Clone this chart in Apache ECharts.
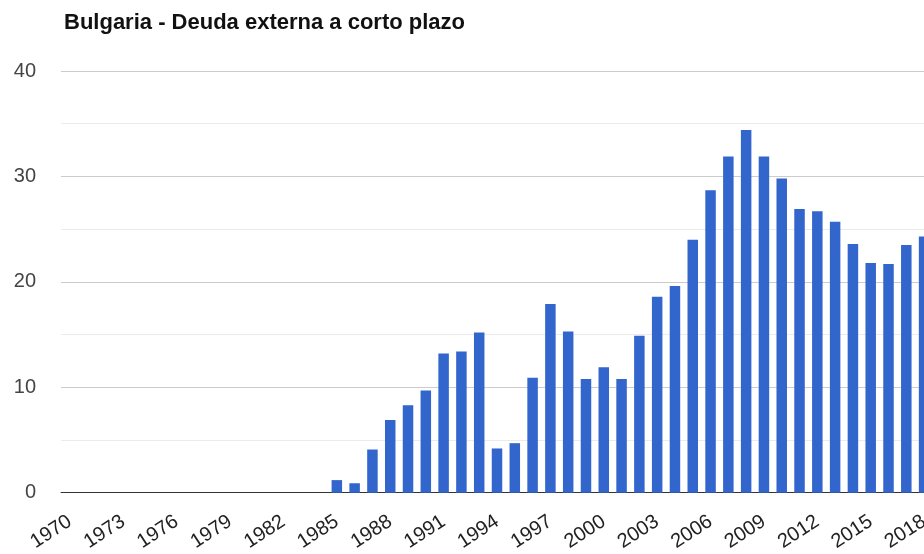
<!DOCTYPE html>
<html>
<head>
<meta charset="utf-8">
<script src="https://cdn.jsdelivr.net/npm/echarts@6/dist/echarts.min.js"></script>
<style>
html,body{margin:0;padding:0;overflow:hidden;background:#fff;width:924px;height:554px;}
#c{width:940px;height:554px;}
</style>
</head>
<body>
<div id="c"></div>
<script>
var titleText = 'Bulgaria - Deuda externa a corto plazo';
var years = [];
for (var y = 1970; y <= 2018; y++) years.push(String(y));
// 1970–1984 have no data
var values = [
  null, null, null, null, null, null, null, null, null, null,
  null, null, null, null, null,
  1.2, 0.9, 4.1, 6.9, 8.3, 9.7, 13.2, 13.4, 15.2, 4.2,
  4.7, 10.9, 17.9, 15.3, 10.8, 11.9, 10.8, 14.9, 18.6, 19.6,
  24.0, 28.7, 31.9, 34.4, 31.9, 29.8, 26.9, 26.7, 25.7, 23.6,
  21.8, 21.7, 23.5, 24.3
];
var yTicks = [0, 10, 20, 30, 40];

var chart = echarts.init(document.getElementById('c'), null, {renderer: 'canvas'});
chart.setOption({
  animation: false,
  title: {
    text: titleText,
    left: 64, top: 12, padding: 0,
    textStyle: {fontFamily: 'Liberation Sans, Arial, sans-serif', fontSize: 22, fontWeight: 'bold', color: '#111'}
  },
  grid: {left: 61, right: 7, top: 71, bottom: 61, containLabel: false},
  xAxis: {
    type: 'category',
    data: years,
    boundaryGap: true,
    axisLine: {show: true, lineStyle: {color: '#333', width: 1}},
    axisTick: {show: false},
    axisLabel: {
      interval: 2,
      rotate: 33,
      margin: 27,
      color: '#222',
      fontSize: 20,
      fontFamily: 'Liberation Sans, Arial, sans-serif'
    },
    splitLine: {show: false}
  },
  yAxis: {
    type: 'value',
    min: yTicks[0],
    max: yTicks[yTicks.length - 1],
    interval: 10,
    axisLine: {show: false},
    axisTick: {show: false},
    axisLabel: {
      margin: 25,
      color: '#444',
      fontSize: 20,
      fontFamily: 'Liberation Sans, Arial, sans-serif'
    },
    splitLine: {show: true, lineStyle: {color: '#cccccc', width: 1}},
    minorTick: {show: false, splitNumber: 2},
    minorSplitLine: {show: true, lineStyle: {color: '#ebebeb', width: 1}}
  },
  series: [{
    type: 'bar',
    data: values,
    barWidth: 10.5,
    itemStyle: {color: '#3366cc'}
  }]
});
</script>
</body>
</html>
